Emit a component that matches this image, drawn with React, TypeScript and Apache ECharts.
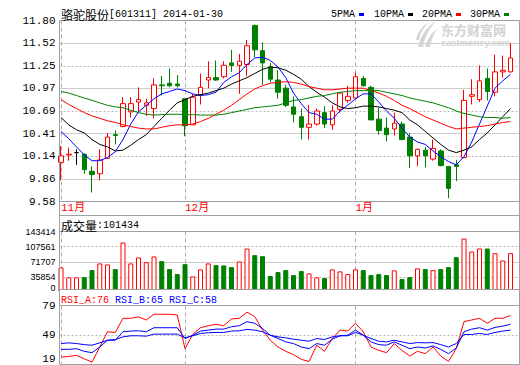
import React, { useEffect, useRef } from "react";
import * as echarts from "echarts";

// ---------------- data ----------------
const stockName = "骆驼股份";
const stockCode = "[601311]";
const tradeDate = "2014-01-30";
const lastVolume = "101434";
const rsiLast = { A: 76, B: 65, C: 58 };
const legendNames = ["5PMA", "10PMA", "20PMA", "30PMA"];
const legendColors = ["#0000ff", "#000000", "#ff0000", "#008000"];

const dates = [
  "2013-11-08", "2013-11-11", "2013-11-12", "2013-11-13", "2013-11-14", "2013-11-15", "2013-11-18", "2013-11-19",
  "2013-11-20", "2013-11-21", "2013-11-22", "2013-11-25", "2013-11-26", "2013-11-27", "2013-11-28", "2013-11-29",
  "2013-12-02", "2013-12-03", "2013-12-04", "2013-12-05", "2013-12-06", "2013-12-09", "2013-12-10", "2013-12-11",
  "2013-12-12", "2013-12-13", "2013-12-16", "2013-12-17", "2013-12-18", "2013-12-19", "2013-12-20", "2013-12-23",
  "2013-12-24", "2013-12-25", "2013-12-26", "2013-12-27", "2013-12-30", "2013-12-31",
  "2014-01-02", "2014-01-03", "2014-01-06", "2014-01-07", "2014-01-08", "2014-01-09", "2014-01-10", "2014-01-13",
  "2014-01-14", "2014-01-15", "2014-01-16", "2014-01-17", "2014-01-20", "2014-01-21", "2014-01-22", "2014-01-23",
  "2014-01-24", "2014-01-27", "2014-01-28", "2014-01-29", "2014-01-30",
];

const opens = [
  10.06, 10.15, 10.18, 10.16, 9.95, 9.92, 10.11, 10.40, 10.50, 10.68,
  10.80, 10.76, 10.72, 11.01, 11.03, 11.02, 10.84, 10.52, 10.89, 11.07,
  11.10, 11.11, 11.28, 11.25, 11.26, 11.74, 11.43, 11.23, 11.07, 10.97,
  10.74, 10.62, 10.49, 10.53, 10.67, 10.52, 10.71, 10.82, 10.85, 11.09,
  10.98, 10.59, 10.48, 10.47, 10.53, 10.37, 10.14, 10.21, 10.10, 10.20,
  10.01, 10.03, 10.12, 10.87, 10.83, 11.09, 10.92, 11.17, 11.17,
];
const closes = [
  10.14, 10.16, 10.18, 9.97, 9.91, 10.09, 10.37, 10.39, 10.78, 10.78,
  10.83, 10.79, 11.01, 11.00, 11.00, 11.00, 10.51, 10.86, 10.98, 11.10,
  11.07, 11.25, 11.25, 11.30, 11.49, 11.44, 11.28, 11.08, 10.92, 10.76,
  10.65, 10.49, 10.53, 10.69, 10.53, 10.69, 10.91, 10.87, 11.11, 11.00,
  10.58, 10.45, 10.40, 10.54, 10.34, 10.14, 10.22, 10.14, 10.23, 10.02,
  9.74, 10.01, 10.82, 10.89, 11.06, 10.93, 11.17, 11.19, 11.34,
];
const lows = [
  9.84, 10.08, 10.03, 9.92, 9.69, 9.84, 10.10, 10.28, 10.49, 10.61,
  10.68, 10.63, 10.60, 10.88, 10.98, 10.98, 10.38, 10.52, 10.77, 10.97,
  11.06, 11.09, 11.17, 10.90, 11.12, 11.35, 11.01, 11.04, 10.84, 10.74,
  10.55, 10.34, 10.34, 10.51, 10.48, 10.46, 10.67, 10.79, 10.84, 10.99,
  10.58, 10.40, 10.32, 10.39, 10.33, 9.99, 10.01, 10.00, 10.08, 10.01,
  9.62, 9.83, 10.11, 10.77, 10.80, 10.82, 10.87, 11.10, 11.16,
];
const highs = [
  10.26, 10.24, 10.22, 10.17, 10.01, 10.22, 10.42, 10.45, 10.86, 10.86,
  10.98, 10.84, 11.09, 11.12, 11.21, 11.13, 10.84, 10.90, 11.15, 11.30,
  11.31, 11.30, 11.44, 11.39, 11.56, 11.75, 11.53, 11.28, 11.19, 11.01,
  10.87, 10.72, 10.76, 10.72, 10.75, 10.76, 10.92, 11.00, 11.16, 11.12,
  11.00, 10.73, 10.61, 10.67, 10.56, 10.42, 10.23, 10.25, 10.34, 10.22,
  10.01, 10.09, 10.95, 11.08, 11.25, 11.21, 11.38, 11.37, 11.52,
];

const ma5 = [
  10.44, 10.35, 10.25, 10.15, 10.08, 10.08, 10.12, 10.19, 10.34, 10.53,
  10.68, 10.76, 10.84, 10.90, 10.93, 10.96, 10.94, 10.90, 10.88, 10.89,
  10.92, 11.04, 11.11, 11.16, 11.26, 11.34, 11.35, 11.31, 11.23, 11.10,
  10.91, 10.78, 10.67, 10.65, 10.59, 10.59, 10.69, 10.76, 10.84, 10.90,
  10.90, 10.80, 10.69, 10.60, 10.48, 10.37, 10.31, 10.28, 10.20, 10.13,
  10.07, 10.03, 10.13, 10.31, 10.53, 10.75, 10.97, 11.06, 11.14,
];
const ma10 = [
  10.61, 10.52, 10.46, 10.42, 10.34, 10.28, 10.25, 10.20, 10.21, 10.27,
  10.34, 10.40, 10.50, 10.60, 10.70, 10.79, 10.83, 10.87, 10.89, 10.91,
  10.94, 10.97, 11.02, 11.06, 11.10, 11.15, 11.20, 11.23, 11.22, 11.19,
  11.14, 11.08, 10.99, 10.92, 10.86, 10.79, 10.74, 10.72, 10.73, 10.75,
  10.75, 10.74, 10.72, 10.70, 10.67, 10.58, 10.52, 10.44, 10.36, 10.28,
  10.21, 10.18, 10.21, 10.25, 10.34, 10.42, 10.52, 10.62, 10.72,
];
const ma20 = [
  10.83, 10.77, 10.72, 10.67, 10.63, 10.60, 10.57, 10.55, 10.52, 10.50,
  10.48, 10.47, 10.47, 10.49, 10.51, 10.52, 10.52, 10.53, 10.56, 10.60,
  10.65, 10.70, 10.76, 10.83, 10.90, 10.96, 11.00, 11.03, 11.04, 11.05,
  11.04, 11.02, 10.99, 10.97, 10.95, 10.95, 10.96, 10.97, 10.97, 10.97,
  10.94, 10.91, 10.87, 10.82, 10.76, 10.72, 10.67, 10.62, 10.58, 10.54,
  10.50, 10.47, 10.48, 10.49, 10.50, 10.51, 10.53, 10.55, 10.56,
];
const ma30 = [
  10.93, 10.91, 10.88, 10.85, 10.82, 10.79, 10.76, 10.74, 10.73, 10.70,
  10.67, 10.65, 10.64, 10.645, 10.65, 10.65, 10.645, 10.645, 10.64, 10.64,
  10.64, 10.65, 10.67, 10.69, 10.71, 10.73, 10.74, 10.75, 10.76, 10.79,
  10.82, 10.83, 10.85, 10.87, 10.88, 10.90, 10.92, 10.93, 10.94, 10.94,
  10.94, 10.94, 10.92, 10.90, 10.88, 10.85, 10.83, 10.81, 10.79, 10.76,
  10.73, 10.69, 10.66, 10.64, 10.62, 10.61, 10.61, 10.60, 10.61,
];

const volumes = [
  58260, 34670, 34670, 35380, 51890, 67700, 65340, 54250, 117230, 67700,
  81850, 70760, 84210, 73120, 54250, 42460, 66050, 37030, 53550, 67700,
  63690, 62980, 58970, 72410, 103080, 87280, 84920, 37740, 47180, 51890,
  40100, 49530, 44110, 34670, 33020, 53550, 48830, 42460, 53550, 51890,
  40100, 42460, 40100, 51190, 30660, 35380, 55900, 54250, 51890, 54250,
  58970, 82560, 126670, 96000, 103080, 103080, 91990, 74770, 91990,
];
const volumeUp = [
  1, 1, 1, 0, 0, 1, 1, 0, 1, 1,
  1, 1, 1, 0, 0, 0, 0, 1, 1, 1,
  0, 0, 0, 1, 1, 0, 0, 0, 0, 0,
  0, 0, 1, 1, 0, 1, 1, 1, 1, 0,
  0, 0, 0, 1, 0, 0, 1, 0, 1, 0,
  0, 0, 1, 1, 1, 0, 1, 1, 1,
];

const rsiA = [
  26.5, 27.2, 28.3, 24.8, 21.4, 36.8, 52.3, 51.6, 66.0, 66.0,
  67.4, 64.3, 70.1, 70.1, 70.1, 69.4, 35.1, 49.5, 56.4, 58.5,
  59.8, 58.5, 65.3, 66.0, 72.2, 67.7, 54.0, 43.7, 36.8, 32.4,
  29.0, 24.2, 22.1, 38.6, 32.4, 45.4, 54.0, 53.0, 60.9, 52.3,
  36.8, 33.4, 31.0, 40.3, 33.4, 27.6, 32.4, 30.0, 36.8, 27.6,
  22.1, 35.1, 62.6, 64.3, 66.0, 60.9, 66.0, 66.0, 68.7,
];
const rsiB = [
  34.4, 34.4, 35.1, 32.4, 31.0, 36.8, 43.7, 43.7, 52.3, 53.0,
  53.3, 52.3, 56.4, 56.4, 56.4, 56.4, 45.4, 48.8, 53.0, 54.0,
  55.0, 55.0, 57.4, 58.5, 62.6, 60.9, 55.7, 48.8, 45.4, 42.0,
  40.3, 36.8, 35.1, 40.3, 38.6, 44.7, 48.2, 48.8, 54.0, 48.8,
  42.0, 39.2, 38.6, 42.0, 38.6, 35.1, 36.8, 35.8, 37.9, 34.4,
  30.0, 35.8, 52.3, 55.0, 56.4, 54.0, 56.7, 58.1, 59.8,
];
const rsiC = [
  40.3, 41.0, 40.3, 39.2, 38.6, 41.0, 43.7, 44.4, 47.1, 48.2,
  48.2, 47.8, 49.9, 49.9, 49.9, 49.9, 46.1, 48.2, 50.6, 51.3,
  51.6, 51.6, 53.0, 53.3, 54.7, 54.0, 52.3, 48.8, 47.1, 46.1,
  44.7, 43.7, 42.7, 45.4, 44.4, 47.1, 48.2, 48.2, 51.6, 48.8,
  45.4, 42.7, 42.0, 43.7, 42.0, 40.3, 41.3, 41.0, 41.3, 39.2,
  36.8, 40.3, 49.5, 49.5, 50.6, 49.5, 51.6, 53.0, 54.0,
];

const priceTicks = ["9.58", "9.86", "10.14", "10.41", "10.69", "10.97", "11.25", "11.52", "11.80"];
const volumeTicks = ["0", "35854", "71707", "107561", "143414"];
const rsiTicks = ["19", "49", "79"];

// ---------------- styling ----------------
const RED = "#ff0000";
const GREEN = "#008000";
const BLUE = "#0000ff";
const FRAME = "#a0a0a0";
const GRID_SOLID = "#cccccc";
const GRID_DOT = "#b8b8b8";
const MONO = "'Liberation Mono', 'DejaVu Sans Mono', monospace";
const CJK = "'Noto Sans CJK SC', sans-serif";

const logoD =
  "M2 26C4 16 10 6 20 0C14 7 9 15 7 26Z M9 26C11 19 15 12 21 8C18 13 15 19 14 26Z M0 19C1 12 5 6 12 2C8 7 4 12 3 19Z";
echarts.graphic.registerShape("emLogo", (echarts.graphic as any).extendPath(logoD, {}));

const monthStart = (i: number) => i === 0 || dates[i].slice(5, 7) !== dates[i - 1].slice(5, 7);

function buildOption(): any {
  const dataLeft = 61;
  const dataWidth = 449.5;
  const frameLeft = 59.5;
  const frameWidth = 460;
  const panels = [
    { top: 20.5, height: 181 },
    { top: 231.5, height: 60.5 },
    { top: 305.5, height: 59 },
  ];
  const grids = [
    ...panels.map((p) => ({ left: dataLeft, width: dataWidth, top: p.top, height: p.height })),
    ...panels.map((p) => ({ left: frameLeft, width: frameWidth, top: p.top, height: p.height })),
  ];

  const catX = (gridIndex: number, showLabel: boolean) => ({
    type: "category",
    gridIndex,
    data: dates,
    boundaryGap: false,
    axisLine: { show: false },
    axisTick: { show: false },
    axisLabel: showLabel
      ? {
          show: true,
          interval: (i: number) => monthStart(i),
          formatter: (v: string) => parseInt(v.slice(5, 7), 10) + "月",
          color: RED,
          fontSize: 11,
          fontFamily: MONO + ", " + CJK,
          align: "left",
          margin: 1,
        }
      : { show: false },
    splitLine: {
      show: true,
      interval: (i: number) => monthStart(i),
      lineStyle: { color: "#aaaaaa", type: [4, 3], width: 1 },
    },
  });

  const frameX = (gridIndex: number) => ({ type: "value", gridIndex, min: 0, max: 1, show: false });

  const frameY = (
    gridIndex: number,
    labels: string[],
    showLabel: boolean,
    visible: (i: number) => boolean,
    color: string,
    lineType: any,
    labelFont: any
  ) => ({
    type: "category",
    gridIndex,
    data: labels,
    boundaryGap: false,
    axisLine: { show: false },
    axisTick: { show: false },
    axisLabel: showLabel
      ? {
          show: true,
          interval: 0,
          margin: 4,
          color: "#000",
          verticalAlignMinLabel: gridIndex === 3 ? "middle" : "bottom",
          verticalAlignMaxLabel: "middle",
          ...labelFont,
        }
      : { show: false },
    splitLine: { show: true, interval: (i: number) => visible(i), lineStyle: { color, type: lineType, width: 1 } },
  });

  const priceFont = { fontSize: 11, fontFamily: MONO };
  const volFont = { fontSize: 9, fontFamily: "'Liberation Sans', sans-serif" };

  const candleData = opens.map((o, i) => [o, closes[i], lows[i], highs[i]]);
  const volData = volumes.map((v, i) => ({
    value: v,
    itemStyle: volumeUp[i]
      ? { color: "#ffffff", borderColor: RED, borderWidth: 1 }
      : { color: GREEN, borderColor: GREEN, borderWidth: 1 },
  }));

  const maLine = (name: string, data: number[], color: string) => ({
    name,
    type: "line",
    xAxisIndex: 0,
    yAxisIndex: 0,
    data,
    symbol: "none",
    showSymbol: false,
    lineStyle: { color, width: 1 },
    z: 5,
  });
  const rsiLine = (name: string, data: number[], color: string) => ({
    name,
    type: "line",
    xAxisIndex: 2,
    yAxisIndex: 2,
    data,
    symbol: "none",
    showSymbol: false,
    lineStyle: { color, width: 1 },
  });

  // frame lines
  const hLines = [20.5, 201.5, 215.5, 231.5, 289.5, 305.5, 364.5];
  const frameEls: any[] = [
    { type: "rect", shape: { x: 60, y: 290, width: 459, height: 15 }, style: { fill: "#ffffff" }, z: 50, silent: true },
    ...hLines.map((y) => ({
      type: "line",
      shape: { x1: 59.5, y1: y, x2: 519.5, y2: y },
      style: { stroke: FRAME, lineWidth: 1 },
      z: 100,
      silent: true,
    })),
    ...[59.5, 519.5].map((x) => ({
      type: "line",
      shape: { x1: x, y1: 20.5, x2: x, y2: 364.5 },
      style: { stroke: FRAME, lineWidth: 1 },
      z: 100,
      silent: true,
    })),
  ];

  // legend
  const legendX = [331, 374, 422, 470];
  const legendEls: any[] = [];
  legendNames.forEach((nm, k) => {
    legendEls.push({
      type: "text",
      x: legendX[k],
      y: 14,
      z: 120,
      style: { text: nm, font: `10px ${MONO}`, fill: "#000", verticalAlign: "middle", align: "left" },
    });
    legendEls.push({
      type: "rect",
      shape: { x: legendX[k] + nm.length * 6 + 4, y: 13, width: 5, height: 3 },
      style: { fill: legendColors[k] },
      z: 120,
    });
  });

  const texts: any[] = [
    {
      type: "text",
      x: 61,
      y: 14,
      z: 120,
      style: {
        text: `{c|${stockName}}{a|${stockCode} ${tradeDate}}`,
        verticalAlign: "middle",
        rich: {
          c: { fontSize: 12, fontFamily: CJK, fill: "#000" },
          a: { fontSize: 10, fontFamily: MONO, fill: "#000" },
        },
      },
    },
    {
      type: "text",
      x: 61,
      y: 225.5,
      z: 120,
      style: {
        text: `{c|成交量}{a|:${lastVolume}}`,
        verticalAlign: "middle",
        rich: {
          c: { fontSize: 12, fontFamily: CJK, fill: "#000" },
          a: { fontSize: 10, fontFamily: MONO, fill: "#000" },
        },
      },
    },
    {
      type: "text",
      x: 61,
      y: 300,
      z: 120,
      style: {
        text: `{r|RSI_A:${rsiLast.A} }{b|RSI_B:${rsiLast.B} RSI_C:${rsiLast.C}}`,
        verticalAlign: "middle",
        rich: {
          r: { fontSize: 10, fontFamily: MONO, fill: RED },
          b: { fontSize: 10, fontFamily: MONO, fill: BLUE },
        },
      },
    },
    // watermark
    {
      type: "emLogo",
      x: 416,
      y: 21,
      z: 1,
      style: { fill: "#d6d6d6" },
    },
    {
      type: "text",
      x: 441,
      y: 23,
      z: 1,
      style: {
        text: "东方财富网",
        font: `bold 13px ${CJK}`,
        fill: "#d2d2d2",
        verticalAlign: "top",
        lineHeight: 13,
      },
    },
    {
      type: "text",
      x: 441,
      y: 38,
      z: 1,
      style: {
        text: "eastmoney.com",
        font: "bold 9.3px 'Liberation Sans', sans-serif",
        fill: "#d2d2d2",
        verticalAlign: "top",
        lineHeight: 9,
      },
    },
  ];

  return {
    animation: false,
    backgroundColor: "#ffffff",
    textStyle: { fontFamily: MONO },
    grid: grids,
    xAxis: [catX(0, true), catX(1, false), catX(2, false), frameX(3), frameX(4), frameX(5)],
    yAxis: [
      { type: "value", gridIndex: 0, min: parseFloat(priceTicks[0]), max: parseFloat(priceTicks[priceTicks.length - 1]), show: false },
      { type: "value", gridIndex: 1, min: 0, max: parseFloat(volumeTicks[volumeTicks.length - 1]), show: false },
      { type: "value", gridIndex: 2, min: parseFloat(rsiTicks[0]), max: parseFloat(rsiTicks[rsiTicks.length - 1]), show: false },
      frameY(3, priceTicks, true, (i) => i % 2 === 1, GRID_SOLID, "solid", priceFont),
      frameY(3, priceTicks, false, (i) => i % 2 === 0, GRID_DOT, [2, 2], priceFont),
      frameY(4, volumeTicks, true, (i) => i % 2 === 0, GRID_SOLID, "solid", volFont),
      frameY(4, volumeTicks, false, (i) => i % 2 === 1, GRID_DOT, [2, 2], volFont),
      frameY(5, rsiTicks, true, (i) => i === 1, GRID_DOT, [2, 2], priceFont),
    ],
    series: [
      {
        name: "K",
        type: "candlestick",
        xAxisIndex: 0,
        yAxisIndex: 0,
        data: candleData,
        barWidth: 5,
        itemStyle: {
          color: "#ffffff",
          color0: GREEN,
          borderColor: RED,
          borderColor0: GREEN,
          borderColorDoji: "#000000",
          borderWidth: 1,
        },
        z: 3,
      },
      maLine("MA5", ma5, BLUE),
      maLine("MA10", ma10, "#000000"),
      maLine("MA20", ma20, RED),
      maLine("MA30", ma30, GREEN),
      {
        name: "VOL",
        type: "bar",
        xAxisIndex: 1,
        yAxisIndex: 1,
        data: volData,
        barWidth: 5,
      },
      rsiLine("RSI_A", rsiA, RED),
      rsiLine("RSI_B", rsiB, BLUE),
      rsiLine("RSI_C", rsiC, BLUE),
    ],
    graphic: { elements: [...frameEls, ...legendEls, ...texts] },
  };
}

export default function App() {
  const ref = useRef<HTMLDivElement>(null);
  useEffect(() => {
    if (!ref.current) return;
    const chart = echarts.init(ref.current, undefined, { renderer: "svg" });
    chart.setOption(buildOption());
    return () => chart.dispose();
  }, []);
  return (
    <div
      ref={ref}
      style={{ position: "fixed", left: 0, top: 0, width: 520, height: 365, background: "#ffffff" }}
    />
  );
}
